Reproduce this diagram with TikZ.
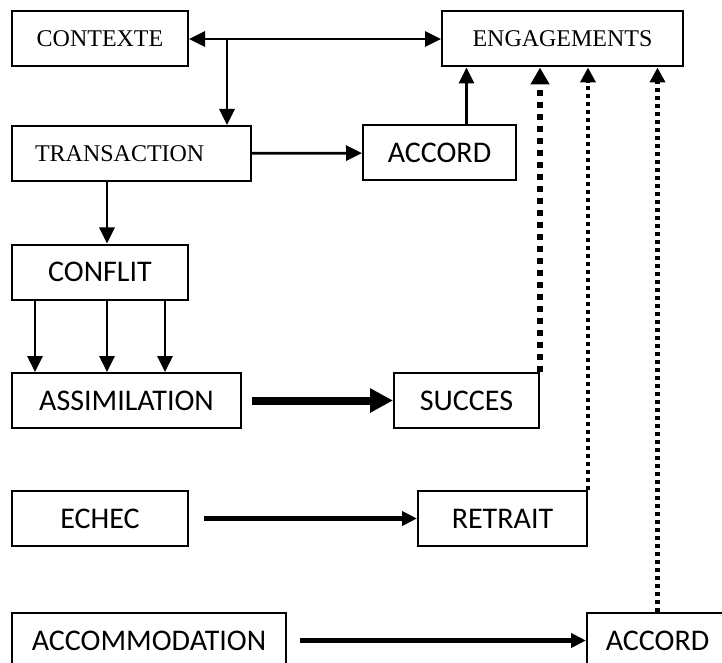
\documentclass[tikz,border=0pt]{standalone}
\usepackage{fontspec}
\setmainfont{Liberation Serif}
\newfontfamily\calibri{Carlito}
\usetikzlibrary{shapes,arrows,arrows.meta,positioning}
\tikzset{
	cadre/.style={draw, line width=1pt, inner sep=0pt, minimum height=27.5pt, font=\fontsize{12}{14}\selectfont},
	cadresans/.style={cadre, font=\calibri\fontsize{15}{18}\selectfont},
	fleche/.style={-{Triangle[length=8pt,width=7.5pt]}, line width=1.4pt},
	doublefleche/.style={fleche, {Triangle[length=8pt,width=7.5pt]}-{Triangle[length=8pt,width=7.5pt]}},
	flechemoy/.style={-{Triangle[length=7.5pt,width=7pt]}, line width=2.5pt},
	flechegrosse/.style={-{Triangle[length=11.5pt,width=11.5pt]}, line width=4pt},
	pointille/.style={-{Triangle[length=7.5pt,width=7.5pt]}, line width=2.2pt, dash pattern=on 2pt off 2pt},
	pointillegros/.style={-{Triangle[length=8.5pt,width=9pt]}, line width=3pt, dash pattern=on 3pt off 3pt}
}
\begin{document}
\begin{tikzpicture}[x=0.5pt, y=-0.5pt]
				\clip (0,0) rectangle (722,663);
				\fill [white] (0,0) rectangle (722,663);
				\node [cadre, minimum width=88pt]		(contexte)	at (100,39)		{CONTEXTE};
				\node [cadre, minimum width=120.5pt]	(engag)		at (562.5,39)	{ENGAGEMENTS};
				\node [cadre, minimum width=119.5pt, text width=96.5pt, inner xsep=11.5pt, align=left]	(trans)	at (131.5,153.5)	{TRANSACTION};
				\node [cadresans, minimum width=76.5pt]	(accord)	at (439.5,153)	{ACCORD};
				\node [cadresans, minimum width=88pt]	(conflit)	at (100,272)	{CONFLIT};
				\node [cadresans, minimum width=114.5pt]	(assim)		at (126.5,400.5)	{ASSIMILATION};
				\node [cadresans, minimum width=72.5pt]	(succes)	at (466.5,400.5)	{SUCCES};
				\node [cadresans, minimum width=88pt]	(echec)		at (100,518.5)	{ECHEC};
				\node [cadresans, minimum width=84.5pt]	(retrait)	at (502.5,518.5)	{RETRAIT};
				\node [cadresans, minimum width=137pt]	(accom)		at (149,640.5)	{ACCOMMODATION};
				\node [cadresans, minimum width=70.5pt]	(accordb)	at (657.5,640.5)	{ACCORD};
				\coordinate (bifur) at (227,39);
				\draw [doublefleche] (contexte) -- (engag);
				\draw [fleche] (bifur) -- (bifur |- trans.north);
				\draw [fleche] (trans) -- (accord);
				\draw [fleche] ([xshift=13.5pt]accord.north) -- ([xshift=13.5pt]accord.north |- engag.south);
				\draw [fleche] (107,0 |- trans.south) -- (107,0 |- conflit.north);
				\foreach \x in {35,107,165}
					\draw [fleche] (\x,0 |- conflit.south) -- (\x,0 |- assim.north);
				\draw [flechegrosse] ([xshift=5pt]assim.east) -- (succes.west);
				\draw [flechemoy] ([xshift=7.5pt]echec.east) -- (retrait.west);
				\draw [flechemoy] ([xshift=6.5pt]accom.east) -- (accordb.west);
				\draw [pointillegros] (succes.north east) -- (succes.north east |- engag.south);
				\draw [pointille] (retrait.north east) -- (retrait.north east |- engag.south);
				\draw [pointille] (accordb.north) -- (accordb.north |- engag.south);
				\end{tikzpicture}
\end{document}
